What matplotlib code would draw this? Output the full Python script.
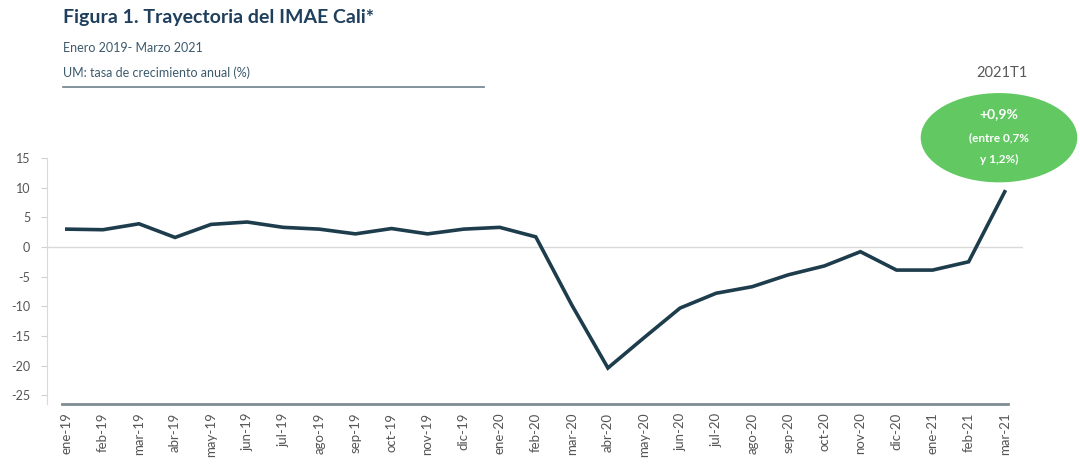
import matplotlib

matplotlib.use("Agg")
import matplotlib.pyplot as plt
from matplotlib.patches import Ellipse

plt.rcParams["font.family"] = ["Lato", "DejaVu Sans"]

months = [
    "ene-19", "feb-19", "mar-19", "abr-19", "may-19", "jun-19", "jul-19", "ago-19", "sep-19",
    "oct-19", "nov-19", "dic-19", "ene-20", "feb-20", "mar-20", "abr-20", "may-20", "jun-20",
    "jul-20", "ago-20", "sep-20", "oct-20", "nov-20", "dic-20", "ene-21", "feb-21", "mar-21",
]
imae_growth = [
    3.0, 2.9, 3.9, 1.6, 3.8, 4.2, 3.3, 3.0, 2.2,
    3.1, 2.2, 3.0, 3.3, 1.7, -9.8, -20.4, -15.3, -10.3,
    -7.8, -6.7, -4.7, -3.2, -0.8, -3.9, -3.9, -2.5, 9.3,
]
y_ticks = [-25, -20, -15, -10, -5, 0, 5, 10, 15]

line_color = "#1e3d4c"
title_color = "#1f3f5c"
sub_color = "#3d5a6c"
label_color = "#555555"

fig = plt.figure(figsize=(10.8, 4.7), dpi=100)
ax = fig.add_axes([0.0435, 0.140, 0.9035, 0.524])

x = list(range(len(months)))
ax.axhline(0, color="#d9d9d9", lw=1.0, zorder=1)
ax.plot(x, imae_growth, color=line_color, lw=2.6, solid_joinstyle="miter", zorder=3)

ax.set_xlim(-0.55, 26.5)
ax.set_ylim(-26.5, 15)
ax.set_yticks(y_ticks)
ax.set_yticklabels([str(v) for v in y_ticks])
ax.set_xticks(x)
ax.set_xticklabels(months, rotation=90)
ax.tick_params(axis="y", colors="#d0d0d0", labelcolor=label_color, labelsize=9, length=4, width=0.8, pad=8)
ax.tick_params(axis="x", length=0, labelcolor=label_color, labelsize=9.5, pad=6)

for side in ["top", "right", "bottom"]:
    ax.spines[side].set_visible(False)
ax.spines["left"].set_color("#d9d9d9")
ax.spines["left"].set_linewidth(0.8)
# category axis line, starts a bit right of the value axis
ax.axhline(-26.5, xmin=0.015, xmax=0.985, color="#7f8c94", lw=2.0, clip_on=False, zorder=2)

fig.text(0.058, 0.962, "Figura 1. Trayectoria del IMAE Cali*", fontsize=14, fontweight="bold",
         color=title_color, va="center")
fig.text(0.058, 0.898, "Enero 2019- Marzo 2021", fontsize=9, color=sub_color, va="center")
fig.text(0.058, 0.845, "UM: tasa de crecimiento anual (%)", fontsize=9, color=sub_color, va="center")
fig.add_artist(plt.Line2D([0.058, 0.448], [0.815, 0.815], color="#6d7f8a", lw=1.2))

fig.text(0.928, 0.845, "2021T1", fontsize=10.5, color="#595959", va="center", ha="center")
fig.add_artist(Ellipse((0.925, 0.707), 0.145, 0.19, transform=fig.transFigure,
                       facecolor="#62c962", edgecolor="none"))
fig.text(0.925, 0.757, "+0,9%", fontsize=10, fontweight="bold", color="white", ha="center", va="center")
fig.text(0.925, 0.707, "(entre 0,7%", fontsize=8.5, fontweight="bold", color="white", ha="center", va="center")
fig.text(0.925, 0.660, "y 1,2%)", fontsize=8.5, fontweight="bold", color="white", ha="center", va="center")

fig.savefig("out.png", dpi=100)
